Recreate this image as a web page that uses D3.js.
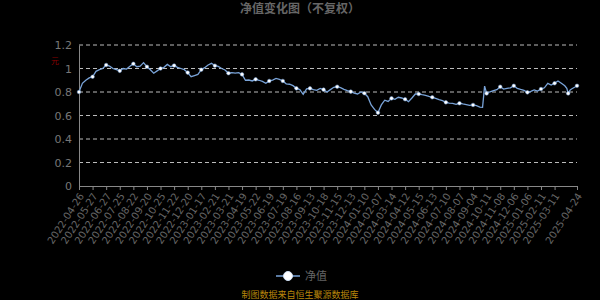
<!DOCTYPE html>
<html>
<head>
<meta charset="utf-8">
<style type="text/css">
body {
	margin: 0;
	background: #000;
}
svg {
	display: block;
	font-family: "Noto Sans CJK SC", "DejaVu Sans", sans-serif;
}
.grid line {
	stroke: #bbb;
	stroke-dasharray: 4,3;
	stroke-width: 1;
}
.navline {
	stroke: #79a3d8;
	stroke-width: 1.3;
	fill: none;
}
</style>
<script src="https://d3js.org/d3.v7.min.js"></script>
</head>
<body>
<script type="text/javascript">
// x axis labels: one every 20 trading days, plus the last day
var tickDates = ["2022-04-26","2022-05-27","2022-06-27","2022-07-25","2022-08-22","2022-09-20",
	"2022-10-25","2022-11-22","2022-12-20","2023-01-17","2023-02-21","2023-03-21","2023-04-19",
	"2023-05-22","2023-06-19","2023-07-19","2023-08-16","2023-09-13","2023-10-18","2023-11-15",
	"2023-12-13","2024-01-10","2024-02-07","2024-03-14","2024-04-12","2024-05-15","2024-06-13",
	"2024-07-10","2024-08-07","2024-09-04","2024-10-11","2024-11-08","2024-12-06","2025-01-06",
	"2025-02-11","2025-03-11","2025-04-24"];
var tickEvery = 20;
var lastDay = 733;
var yTicks = [0, 0.2, 0.4, 0.6, 0.8, 1.0, 1.2];

// [trading day index, net value]
var navPoints = [
	[0,0.80],[5,0.874],[10,0.90],[15,0.92],[20,0.93],[25,0.976],[30,0.99],[35,1.0],[40,1.03],
	[45,1.02],[50,1.0],[55,0.99],[60,0.98],[65,1.0],[70,0.995],[75,1.02],[80,1.04],[85,1.015],
	[90,1.02],[95,1.05],[100,1.015],[105,0.99],[110,0.96],[115,0.98],[120,1.0],[125,1.01],
	[130,1.035],[135,1.015],[140,1.025],[145,1.01],[150,1.0],[155,0.99],[160,0.965],[165,0.93],
	[170,0.94],[175,0.95],[180,0.99],[185,1.007],[190,1.03],[195,1.044],[200,1.024],[205,1.018],
	[210,1.0],[215,0.987],[220,0.96],[225,0.965],[230,0.96],[235,0.965],[240,0.95],[245,0.90],
	[250,0.902],[255,0.894],[260,0.908],[265,0.90],[270,0.89],[275,0.874],[280,0.894],[285,0.902],
	[290,0.916],[295,0.908],[300,0.894],[305,0.87],[310,0.866],[315,0.854],[320,0.831],[325,0.82],
	[330,0.78],[335,0.826],[340,0.831],[345,0.82],[350,0.814],[355,0.831],[360,0.82],[365,0.80],
	[370,0.82],[375,0.84],[380,0.845],[385,0.837],[390,0.823],[395,0.811],[400,0.803],[405,0.79],
	[410,0.783],[415,0.80],[420,0.79],[425,0.76],[430,0.69],[435,0.652],[440,0.624],[445,0.69],
	[450,0.73],[455,0.72],[460,0.746],[465,0.738],[470,0.755],[475,0.749],[480,0.738],[485,0.718],
	[490,0.749],[495,0.783],[500,0.783],[505,0.777],[510,0.772],[515,0.763],[520,0.755],[525,0.746],
	[530,0.735],[535,0.726],[540,0.712],[545,0.706],[550,0.704],[555,0.695],[560,0.704],[565,0.698],
	[570,0.693],[575,0.687],[580,0.69],[585,0.684],[590,0.672],[594,0.67],[597,0.85],[600,0.788],
	[605,0.802],[610,0.811],[615,0.82],[620,0.845],[625,0.825],[630,0.831],[635,0.836],[640,0.853],
	[645,0.831],[650,0.822],[655,0.814],[660,0.797],[665,0.805],[670,0.817],[675,0.808],[680,0.825],
	[685,0.836],[690,0.874],[695,0.859],[700,0.874],[705,0.894],[710,0.874],[715,0.853],[718,0.831],
	[720,0.788],[723,0.817],[725,0.825],[730,0.842],[733,0.853]
];

var width = 600;
var height = 300;
var plotLeft = 79, plotRight = 577, plotTop = 45, plotBottom = 186;

var svg = d3.select("body").append("svg").attr("width", width).attr("height", height);

var x = d3.scaleLinear().domain([0, lastDay]).range([plotLeft, plotRight]);
var y = d3.scaleLinear().domain([0, 1.2]).range([plotBottom, plotTop]);

var tickIdx = tickDates.map(function(d, i) { return i < tickDates.length - 1 ? i * tickEvery : lastDay; });

// title
svg.append("text").attr("x", 300).attr("y", 13).attr("text-anchor", "middle")
	.attr("fill", "#666").style("font-size", "12px").style("font-weight", "bold")
	.text("净值变化图（不复权）");

// grid
svg.append("g").attr("class", "grid").selectAll("line")
	.data(yTicks.filter(function(d) { return d > 0; })).enter().append("line")
	.attr("x1", plotLeft).attr("x2", plotRight)
	.attr("y1", function(d) { return y(d); }).attr("y2", function(d) { return y(d); });

// y axis
var yAxis = svg.append("g").attr("transform", "translate(" + plotLeft + ",0)")
	.call(d3.axisLeft(y).tickValues(yTicks).tickSize(0).tickPadding(7)
		.tickFormat(function(d) { return String(+d.toFixed(1)); }));
yAxis.select(".domain").attr("stroke", "#888");
yAxis.selectAll("text").attr("fill", "#777").style("font-size", "11px")
	.style("font-family", "'DejaVu Sans', sans-serif");

svg.append("text").attr("x", 55).attr("y", 64).attr("text-anchor", "middle")
	.attr("fill", "#8b0000").style("font-size", "8px").text("元");

// x axis
var xAxis = svg.append("g").attr("transform", "translate(0," + plotBottom + ")")
	.call(d3.axisBottom(x).tickValues(tickIdx).tickSize(4)
		.tickFormat(function(d, i) { return tickDates[i]; }));
xAxis.select(".domain").attr("stroke", "#888");
xAxis.selectAll(".tick line").attr("stroke", "#888");
xAxis.selectAll("text").attr("fill", "#666").style("font-size", "10px")
	.style("font-family", "'DejaVu Sans', sans-serif")
	.attr("text-anchor", "end").attr("dy", "0.35em")
	.attr("transform", "translate(2,8) rotate(-57)")
	.attr("y", 0).attr("x", 0);

// line
var line = d3.line()
	.x(function(d) { return x(d[0]); })
	.y(function(d) { return y(d[1]); });

svg.append("path").datum(navPoints).attr("class", "navline").attr("d", line);

// symbols at labelled days
svg.append("g").selectAll("circle")
	.data(navPoints.filter(function(d) { return d[0] % tickEvery === 0 || d[0] === lastDay; }))
	.enter().append("circle")
	.attr("cx", function(d) { return x(d[0]); })
	.attr("cy", function(d) { return y(d[1]); })
	.attr("r", 1.8).attr("fill", "#fff").attr("stroke", "#79a3d8").attr("stroke-width", 0.5);

// legend
var lg = svg.append("g").attr("transform", "translate(288,276)");
lg.append("line").attr("x1", -12).attr("x2", 12).attr("stroke", "#79a3d8").attr("stroke-width", 1.5);
lg.append("circle").attr("r", 4.5).attr("fill", "#fff").attr("stroke", "#cfe0f5").attr("stroke-width", 1);
lg.append("text").attr("x", 17).attr("y", 4).attr("fill", "#666").style("font-size", "11px").text("净值");

// source
svg.append("text").attr("x", 300).attr("y", 298).attr("text-anchor", "middle")
	.attr("fill", "#b8860b").style("font-size", "9px").text("制图数据来自恒生聚源数据库");
</script>
</body>
</html>
